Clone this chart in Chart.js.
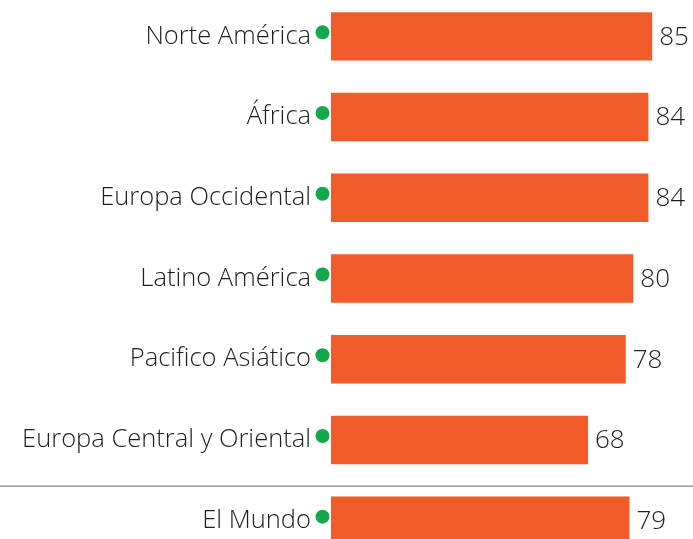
<!DOCTYPE html>
<html>
<head>
<meta charset="utf-8">
<script src="https://cdn.jsdelivr.net/npm/chart.js@4/dist/chart.umd.min.js"></script>
<style>
  html, body { margin: 0; padding: 0; background: #fff; overflow: hidden; }
  #wrap { position: relative; top: -4px; width: 693px; height: 565px; }
</style>
</head>
<body>
<div id="wrap"><canvas id="chart"></canvas></div>
<script>
const REGIONES = [
  'Norte América',
  'África',
  'Europa Occidental',
  'Latino América',
  'Pacifico Asiático',
  'Europa Central y Oriental',
  'El Mundo',
];
const VALORES = [85, 84, 84, 80, 78, 68, 79];

const NARANJA = '#F15A29';
const VERDE = '#12A84B';
const TEXTO = '#1e1e1e';
const FUENTE = '"Open Sans", "DejaVu Sans", sans-serif';

// green dots, value labels and the separator before "El Mundo"
const extras = {
  id: 'extras',
  afterDatasetsDraw(chart) {
    const { ctx, chartArea } = chart;
    const y = chart.scales.y;
    const meta = chart.getDatasetMeta(0);
    ctx.save();

    ctx.fillStyle = VERDE;
    REGIONES.forEach((_, i) => {
      const cy = y.getPixelForValue(i) - 4;
      ctx.beginPath();
      ctx.arc(chartArea.left - 8.5, cy, 7, 0, Math.PI * 2);
      ctx.fill();
    });

    ctx.fillStyle = TEXTO;
    ctx.font = '300 26px ' + FUENTE;
    ctx.textAlign = 'left';
    ctx.textBaseline = 'middle';
    meta.data.forEach((bar, i) => {
      ctx.fillText(String(VALORES[i]), bar.x + 7, bar.y + 1);
    });

    const sep = (y.getPixelForValue(5) + y.getPixelForValue(6)) / 2 + 6;
    ctx.strokeStyle = '#9a9a9a';
    ctx.lineWidth = 1.5;
    ctx.beginPath();
    ctx.moveTo(0, sep);
    ctx.lineTo(chart.width, sep);
    ctx.stroke();

    ctx.restore();
  },
};

new Chart(document.getElementById('chart'), {
  type: 'bar',
  data: {
    labels: REGIONES,
    datasets: [
      {
        data: VALORES,
        backgroundColor: NARANJA,
        borderWidth: 0,
        categoryPercentage: 1,
        barPercentage: 0.6,
      },
    ],
  },
  options: {
    indexAxis: 'y',
    responsive: true,
    maintainAspectRatio: false,
    animation: false,
    layout: { padding: 0 },
    scales: {
      x: { display: false, min: 0, max: 95.8 },
      y: {
        grid: { display: false, drawTicks: false },
        border: { display: false },
        ticks: {
          color: TEXTO,
          padding: 20,
          font: { family: FUENTE, size: 25.5, weight: '300' },
        },
        afterFit: (scale) => {
          scale.width = 331;
          scale.paddingTop = 0;
          scale.paddingBottom = 0;
        },
      },
    },
    plugins: {
      legend: { display: false },
      tooltip: { enabled: false },
    },
  },
  plugins: [extras],
});
</script>
</body>
</html>
